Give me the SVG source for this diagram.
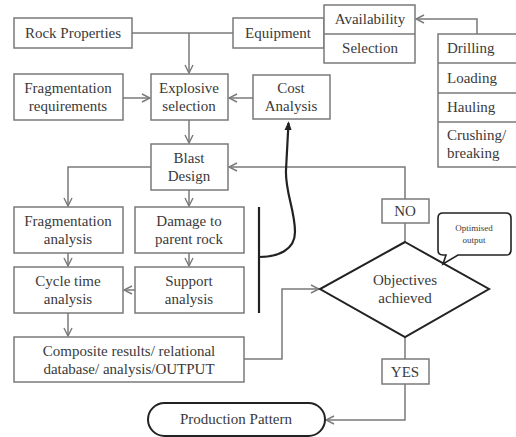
<svg xmlns="http://www.w3.org/2000/svg" width="516" height="437" viewBox="0 0 516 437">
<defs>
<style>
.b{fill:#fff;stroke:#7a7a7a;stroke-width:1.5}
.c{fill:none;stroke:#7a7a7a;stroke-width:1.5}
.k{fill:none;stroke:#222;stroke-width:2.2}
text{font-family:Liberation Serif,Times New Roman,Tinos,Noto Serif,serif;font-size:15px;fill:#3a3a3a;text-anchor:middle}
.l{text-anchor:start}
.s{font-size:9px}
</style>
<marker id="a" viewBox="0 0 10 10" refX="9" refY="5" markerWidth="10" markerHeight="10" markerUnits="userSpaceOnUse" orient="auto">
<path d="M1,1 L9,5 L1,9" fill="none" stroke="#7a7a7a" stroke-width="1.4"/>
</marker>
<marker id="ak" viewBox="0 0 10 10" refX="8" refY="5" markerWidth="9" markerHeight="9" markerUnits="userSpaceOnUse" orient="auto">
<path d="M0,1 L10,5 L0,9 Z" fill="#222"/>
</marker>
</defs>
<rect width="516" height="437" fill="#fff"/>
<g id="connectors">
<path class="c" d="M132,33 H233"/>
<path class="c" d="M189,33 V73" marker-end="url(#a)"/>
<path class="c" d="M477,34 V19 H416" marker-end="url(#a)"/>
<path class="c" d="M123,98 H150" marker-end="url(#a)"/>
<path class="c" d="M253,98 H229" marker-end="url(#a)"/>
<path class="c" d="M189,120 V143" marker-end="url(#a)"/>
<path class="c" d="M405,199 V167 H229" marker-end="url(#a)"/>
<path class="c" d="M151,167 H68 V206" marker-end="url(#a)"/>
<path class="c" d="M189,190 V206" marker-end="url(#a)"/>
<path class="c" d="M68,253 V266" marker-end="url(#a)"/>
<path class="c" d="M189,253 V266" marker-end="url(#a)"/>
<path class="c" d="M135,290 H124" marker-end="url(#a)"/>
<path class="c" d="M68,313 V336" marker-end="url(#a)"/>
<path class="c" d="M244,359 H282 V289 H319" marker-end="url(#a)"/>
<path class="c" d="M405,242 V223"/>
<path class="c" d="M405,337 V359"/>
<path class="c" d="M405,384 V420 H326" marker-end="url(#a)"/>
<path class="k" d="M259,207 V313"/>
<path class="k" d="M259,257 C278,257 295,250 295,232 C295,210 285,192 286,170 L288.5,123" marker-end="url(#ak)"/>
</g>
<g id="rock"><rect class="b" x="14" y="18" width="118" height="30"/><text x="73" y="38">Rock Properties</text></g>
<g id="equipment"><rect class="b" x="233" y="18" width="91" height="30"/><text x="278" y="38">Equipment</text></g>
<g id="avail"><rect class="b" x="324" y="5" width="91" height="58"/><path class="c" d="M324,34 H415"/><text x="370" y="24">Availability</text><text x="370" y="53">Selection</text></g>
<g id="list"><rect class="b" x="438" y="34" width="90" height="133"/><path class="c" d="M438,63 H520 M438,93 H520 M438,122 H520"/>
<text class="l" x="447" y="53">Drilling</text><text class="l" x="447" y="83">Loading</text><text class="l" x="447" y="112">Hauling</text><text class="l" x="447" y="140">Crushing/</text><text class="l" x="447" y="158">breaking</text></g>
<g id="fragreq"><rect class="b" x="14" y="74" width="109" height="46"/><text x="68" y="93">Fragmentation</text><text x="68" y="111">requirements</text></g>
<g id="explosive"><rect class="b" x="151" y="74" width="77" height="46"/><text x="189" y="93">Explosive</text><text x="189" y="111">selection</text></g>
<g id="cost"><rect class="b" x="253" y="75" width="77" height="44"/><text x="291" y="93">Cost</text><text x="291" y="111">Analysis</text></g>
<g id="blast"><rect class="b" x="151" y="144" width="77" height="46"/><text x="189" y="163">Blast</text><text x="189" y="181">Design</text></g>
<g id="fraganal"><rect class="b" x="14" y="207" width="109" height="46"/><text x="68" y="226">Fragmentation</text><text x="68" y="244">analysis</text></g>
<g id="damage"><rect class="b" x="135" y="207" width="109" height="46"/><text x="189" y="226">Damage to</text><text x="189" y="244">parent rock</text></g>
<g id="cycle"><rect class="b" x="14" y="267" width="109" height="46"/><text x="68" y="286">Cycle time</text><text x="68" y="304">analysis</text></g>
<g id="support"><rect class="b" x="135" y="267" width="109" height="46"/><text x="189" y="286">Support</text><text x="189" y="304">analysis</text></g>
<g id="composite"><rect class="b" x="14" y="337" width="230" height="45"/><text x="129" y="356">Composite results/ relational</text><text x="129" y="374">database/ analysis/OUTPUT</text></g>
<g id="objectives"><path d="M405,242 L489,289 L405,337 L320,289 Z" fill="#fff" stroke="#222" stroke-width="2"/><text x="405" y="285">Objectives</text><text x="405" y="303">achieved</text></g>
<g id="no"><rect class="b" x="382" y="199" width="47" height="24"/><text x="405" y="216">NO</text></g>
<g id="yes"><rect class="b" x="382" y="359" width="47" height="25"/><text x="405" y="377">YES</text></g>
<g id="callout"><path d="M446,255 H443 Q438,255 438,250 V218 Q438,213 443,213 H506 Q511,213 511,218 V250 Q511,255 506,255 H458 L443,264 Z" fill="#fff" stroke="#222" stroke-width="1.6"/><text class="s" x="474" y="231">Optimised</text><text class="s" x="474" y="243">output</text></g>
<g id="production"><rect x="148" y="403" width="177" height="33" rx="16.5" fill="#fff" stroke="#222" stroke-width="2"/><text x="236" y="424">Production Pattern</text></g>
</svg>
